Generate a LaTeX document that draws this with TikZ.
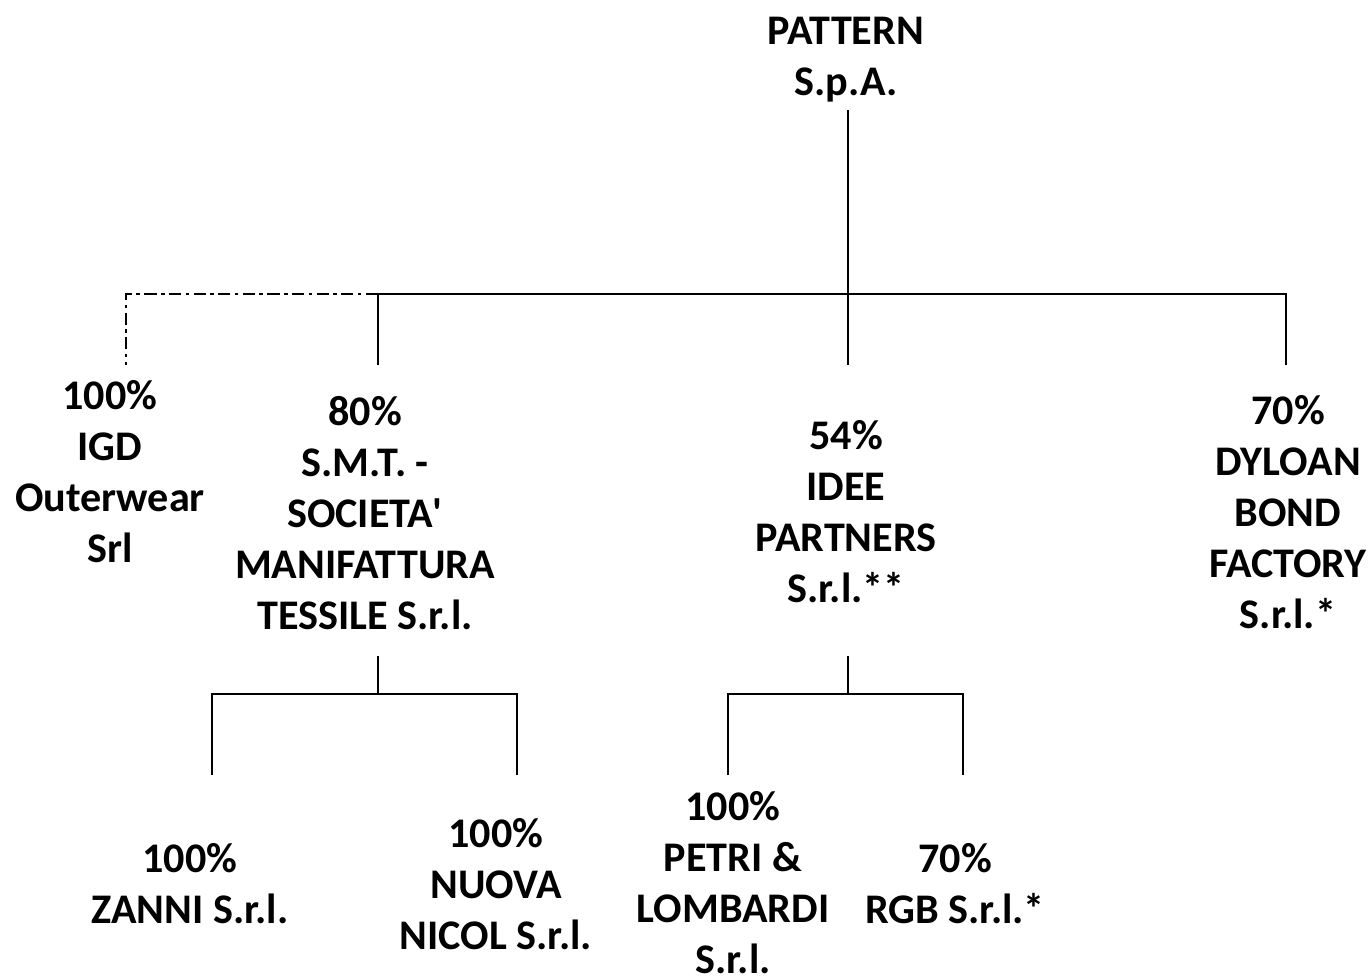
\documentclass[tikz,border=0pt]{standalone}
\usepackage{fontspec}
\setmainfont{Carlito}
\usetikzlibrary{positioning}
\tikzset{
    orgunit/.style={align=center, inner sep=0pt, font=\bfseries\fontsize{24}{29}\selectfont},
    orgline/.style={line width=1.6pt},
    orgoption/.style={line width=1.6pt, dash pattern=on 7pt off 2.5pt on 2pt off 2.5pt}
}
\begin{document}
\begin{tikzpicture}[x=0.02cm, y=-0.02cm]
  \useasboundingbox (0,0) rectangle (1368,976);
  % companies
  \node[orgunit] (pattern) at (846,60) {PATTERN\\S.p.A.};
  \node[orgunit] (igd) at (110,472) {100\%\\IGD\\Outerwear\\Srl};
  \node[orgunit] (smt) at (365,513) {80\%\\S.M.T. -\\SOCIETA\textquotesingle\\MANIFATTURA\\TESSILE S.r.l.};
  \node[orgunit] (idee) at (846,512) {54\%\\IDEE\\PARTNERS\\S.r.l.**};
  \node[orgunit] (dyloan) at (1288,512) {70\%\\DYLOAN\\BOND\\FACTORY\\S.r.l.*};
  \node[orgunit] (zanni) at (190,884) {100\%\\ZANNI S.r.l.};
  \node[orgunit] (nuova) at (496,884) {100\%\\NUOVA\\NICOL S.r.l.};
  \node[orgunit] (petri) at (733,883) {100\%\\PETRI \&\\LOMBARDI\\S.r.l.};
  \node[orgunit] (rgb) at (955,884) {70\%\\RGB S.r.l.*};
  % junctions
  \coordinate (p0) at (848,110);
  \coordinate (p1) at (848,365);
  \coordinate (b1) at (378,294);
  \coordinate (b2) at (1286,294);
  \coordinate (s1) at (378,365);
  \coordinate (d1) at (1286,365);
  \coordinate (i0) at (126,294);
  \coordinate (i1) at (126,365);
  \coordinate (m0) at (378,656);
  \coordinate (m1) at (378,694);
  \coordinate (z0) at (212,694);
  \coordinate (z1) at (212,775);
  \coordinate (n0) at (517,694);
  \coordinate (n1) at (517,775);
  \coordinate (e0) at (848,656);
  \coordinate (e1) at (848,694);
  \coordinate (l0) at (728,694);
  \coordinate (l1) at (728,775);
  \coordinate (r0) at (963,694);
  \coordinate (r1) at (963,775);
  % connectors
  \draw[orgline] (p0) -- (p1);
  \draw[orgline] (s1) -- (b1) -- (b2) -- (d1);
  \draw[orgoption] (b1) -- (i0) -- (i1);
  \draw[orgline] (m0) -- (m1);
  \draw[orgline] (z1) -- (z0) -- (n0) -- (n1);
  \draw[orgline] (e0) -- (e1);
  \draw[orgline] (l1) -- (l0) -- (r0) -- (r1);
\end{tikzpicture}
\end{document}
